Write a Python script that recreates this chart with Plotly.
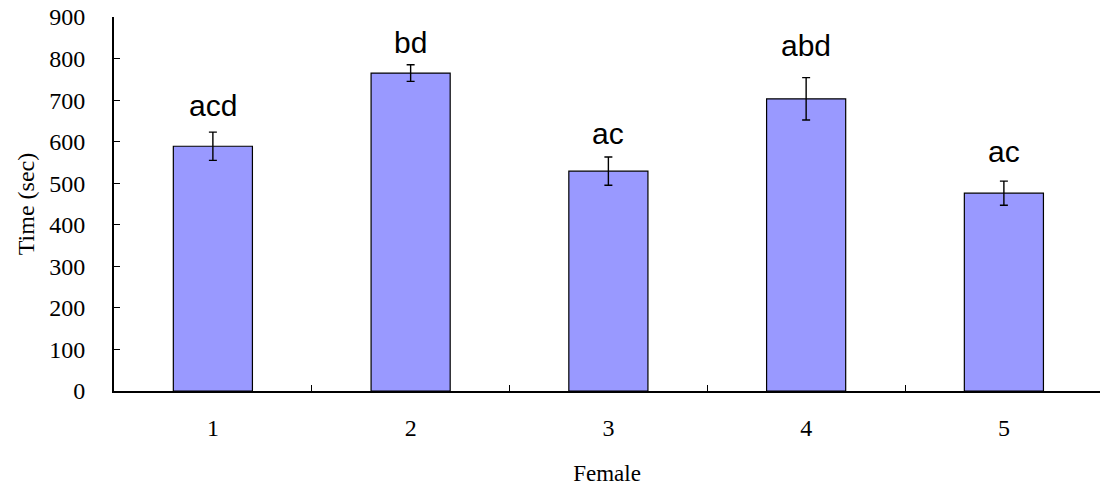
import plotly.graph_objects as go

# Mean time per female with standard error and significance letters
females = ["1", "2", "3", "4", "5"]
mean_time = [589, 765, 529, 703, 476]
std_err = [34, 20, 34, 51, 29]
sig_letters = ["acd", "bd", "ac", "abd", "ac"]

# vertical nudge (px) of each significance label above its error bar
label_gap = [8, 4, 5, 14, 11]

serif = "Liberation Serif, Times New Roman, serif"
sans = "Liberation Sans, Arial, sans-serif"

fig = go.Figure()
fig.add_trace(go.Bar(
    x=females,
    y=mean_time,
    width=0.4,
    marker=dict(color="#9999FF", line=dict(color="black", width=1.2)),
    error_y=dict(type="data", array=std_err, visible=True,
                 color="black", thickness=1.4, width=4),
    showlegend=False,
    hoverinfo="skip",
))

# category positions are addressed by index on the category axis
for i, (m, e, lab, g) in enumerate(zip(mean_time, std_err, sig_letters, label_gap)):
    fig.add_annotation(
        x=i, y=m + e, text=lab, showarrow=False,
        xanchor="center", yanchor="bottom", yshift=g,
        font=dict(family=sans, size=30, color="black"),
    )

fig.update_layout(
    width=1100, height=486,
    margin=dict(l=114, r=0, t=17, b=95),
    paper_bgcolor="white", plot_bgcolor="white",
    bargap=0.6,
    xaxis=dict(
        type="category",
        range=[-0.5, 4.486],
        tickson="boundaries",
        ticks="inside", ticklen=6, tickwidth=1, tickcolor="black",
        showline=True, linecolor="black", linewidth=2,
        showgrid=False, zeroline=False,
        tickfont=dict(family=serif, size=24, color="black"),
        ticklabelstandoff=14,
        title=dict(text="Female", font=dict(family=serif, size=23, color="black"),
                   standoff=28),
    ),
    yaxis=dict(
        range=[0, 900],
        tickvals=[0, 100, 200, 300, 400, 500, 600, 700, 800, 900],
        ticks="inside", ticklen=6, tickwidth=1, tickcolor="black",
        showline=True, linecolor="black", linewidth=2,
        showgrid=False, zeroline=False,
        tickfont=dict(family=serif, size=24, color="black"),
        ticklabelstandoff=22,
        title=dict(text="Time (sec)", font=dict(family=serif, size=24, color="black"),
                   standoff=8),
    ),
)

fig.write_html("out.html")
